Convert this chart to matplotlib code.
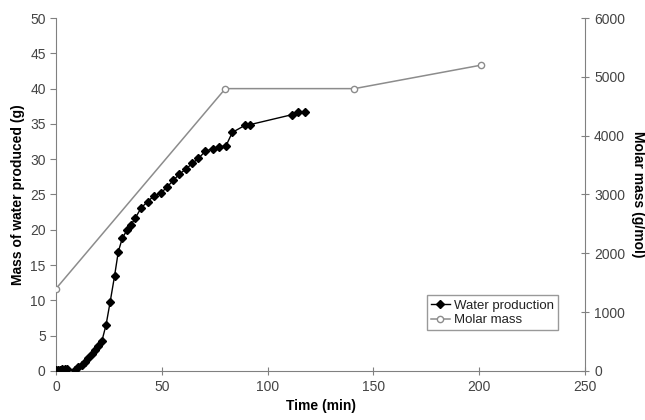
import matplotlib.pyplot as plt
from matplotlib import rcParams

rcParams['font.family'] = 'Liberation Sans'
rcParams['font.size'] = 10

# water production (time in min, mass in g)
t_water = [0, 1, 2, 3, 4, 5, 9, 10.4, 12.1, 13.7, 15.3, 16.9, 18.4, 20, 21.6,
           23.6, 25.5, 27.6, 29.4, 31.3, 33.4, 35.4, 37.3, 40.2, 43.3, 46.3,
           49.5, 52.3, 55.4, 58.3, 61.4, 64.3, 67.3, 70.4, 74.1, 77.2, 80.3,
           83.3, 89.3, 91.7, 111.4, 114.5, 117.7]
m_water = [0.1, 0.1, 0.1, 0.2, 0.2, 0.2, 0.1, 0.5, 0.85, 1.3, 1.8, 2.4, 3.0,
           3.5, 4.2, 6.5, 9.7, 13.4, 16.9, 18.8, 19.9, 20.7, 21.6, 23.1, 24.0,
           24.8, 25.2, 26.0, 27.0, 27.9, 28.6, 29.4, 30.1, 31.1, 31.5, 31.7,
           31.9, 33.8, 34.8, 34.9, 36.3, 36.7, 36.7]

# molar mass
t_molar = [0, 80, 141, 201]
molar = [1400, 4800, 4800, 5200]

grey = '#808080'
txt = '#444444'

fig = plt.figure(figsize=(6.45, 4.2), dpi=100)
ax1 = fig.add_axes([0.087, 0.117, 0.82, 0.84])
ax2 = ax1.twinx()

l1, = ax1.plot(t_water, m_water, color='black', lw=1, marker='D',
               markersize=4, label='Water production', zorder=3)
l2, = ax2.plot(t_molar, molar, color='#8c8c8c', lw=1.1, marker='o', markersize=4.5,
               markerfacecolor='white', markeredgecolor='#8c8c8c', label='Molar mass')

ax1.set_xlim(0, 250)
ax1.set_ylim(0, 50)
ax2.set_ylim(0, 6000)
ax1.set_xticks(range(0, 251, 50))
ax1.set_yticks(range(0, 51, 5))
ax2.set_yticks(range(0, 6001, 1000))

for ax in (ax1, ax2):
    for s in ax.spines.values():
        s.set_color(grey)
    ax.spines['top'].set_visible(False)
ax1.spines['right'].set_visible(False)
ax2.spines['left'].set_visible(False)
ax2.spines['bottom'].set_visible(False)

ax1.tick_params(axis='y', colors=grey, labelcolor=txt, labelsize=10, length=4)
ax1.tick_params(axis='x', colors=grey, labelcolor=txt, labelsize=10,
                direction='inout', length=6)
ax2.tick_params(axis='y', colors=grey, labelcolor=txt, labelsize=10,
                direction='inout', length=6)

ax1.set_xlabel('Time (min)', fontweight='bold', fontsize=10, labelpad=4)
ax1.set_ylabel('Mass of water produced (g)', fontweight='bold', fontsize=10)
ax2.set_ylabel('Molar mass (g/mol)', fontweight='bold', fontsize=10,
               rotation=270, labelpad=14)

leg = ax2.legend(handles=[l1, l2], loc='lower left',
                 bbox_to_anchor=(0.688, 0.096), fontsize=9.5, frameon=True,
                 fancybox=False, borderpad=0.3, handlelength=1.5,
                 handletextpad=0.3, labelspacing=0.2)
leg.get_frame().set_edgecolor(grey)
leg.get_frame().set_linewidth(1)
for t in leg.get_texts():
    t.set_color('#222222')

fig.savefig('out.png', dpi=100)
